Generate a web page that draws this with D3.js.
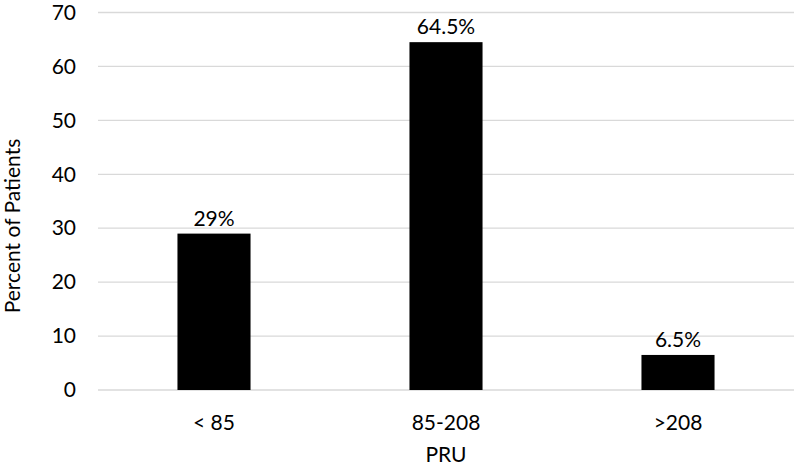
<!DOCTYPE html>
<html><head><meta charset="utf-8">
<script src="https://cdn.jsdelivr.net/npm/d3@7"></script>
<style>body{margin:0;background:#fff}svg{display:block}text{font-family:Lato,"Open Sans",sans-serif;fill:#000}</style>
</head><body><svg id="c" width="794" height="469"></svg>
<script>
const categories = ["< 85", "85-208", ">208"];
const values = [29, 64.5, 6.5];
const valueLabels = ["29%", "64.5%", "6.5%"];
const yTicks = [0, 10, 20, 30, 40, 50, 60, 70];
const xTitle = "PRU";
const yTitle = "Percent of Patients";

const svg = d3.select("#c");
const fs = 21;
const mLeft = 98, mRight = 794, mTop = 12.5, mBottom = 390;
const x = d3.scaleBand().domain(categories).range([mLeft, mRight]).paddingInner(0.685).paddingOuter(0.3425);
const y = d3.scaleLinear().domain([0, 70]).range([mBottom, mTop]);

svg.append("g").selectAll("line").data(yTicks).join("line")
  .attr("x1", mLeft).attr("x2", mRight)
  .attr("y1", d => y(d)).attr("y2", d => y(d))
  .attr("stroke", "#d9d9d9").attr("stroke-width", 1.3);

const yAxis = d3.axisLeft(y).tickValues(yTicks).tickSize(0).tickPadding(22);
const gy = svg.append("g").attr("transform", `translate(${mLeft},0)`).call(yAxis);
gy.select(".domain").remove();
gy.selectAll("text").style("font-family", "Lato,'Open Sans',sans-serif").attr("font-size", fs).attr("fill", "#000");

svg.append("g").selectAll("rect").data(values).join("rect")
  .attr("x", (d, i) => x(categories[i])).attr("width", x.bandwidth())
  .attr("y", d => y(d)).attr("height", d => y(0) - y(d)).attr("fill", "#000");

svg.append("g").selectAll("text").data(values).join("text")
  .attr("x", (d, i) => x(categories[i]) + x.bandwidth() / 2)
  .attr("y", d => y(d) - 8).attr("text-anchor", "middle").attr("font-size", fs)
  .text((d, i) => valueLabels[i]);

const xAxis = d3.axisBottom(x).tickSize(0).tickPadding(25);
const gx = svg.append("g").attr("transform", `translate(0,${mBottom})`).call(xAxis);
gx.select(".domain").remove();
gx.selectAll("text").style("font-family", "Lato,'Open Sans',sans-serif").attr("font-size", fs).attr("fill", "#000");

svg.append("text").attr("x", (mLeft + mRight) / 2).attr("y", 462).attr("text-anchor", "middle").attr("font-size", fs).text(xTitle);
svg.append("text").attr("transform", "translate(20,226) rotate(-90)").attr("text-anchor", "middle").attr("font-size", fs).text(yTitle);
</script></body></html>
